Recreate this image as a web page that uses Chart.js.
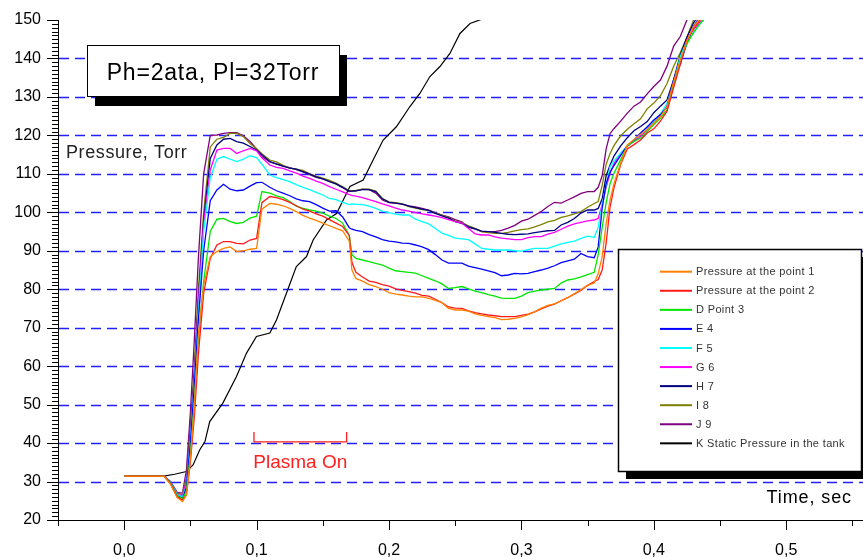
<!DOCTYPE html>
<html><head><meta charset="utf-8">
<script src="https://cdn.jsdelivr.net/npm/chart.js@4.4.0/dist/chart.umd.min.js"></script>
<style>html,body{margin:0;padding:0;background:#fff;overflow:hidden}#wrap{width:863px;height:557px;position:relative}canvas{display:block}</style>
</head><body><div id="wrap"><canvas id="c" width="863" height="557"></canvas></div>
<script>
// ---------- DATA ----------
const timeSec = [0,0.03,0.035,0.04,0.044,0.047,0.05,0.053,0.056,0.06,
0.065,0.07,0.075,0.08,0.085,0.09,0.095,0.1,0.104,0.11,
0.115,0.12,0.125,0.13,0.135,0.14,0.145,0.15,0.155,0.16,
0.165,0.17,0.172,0.175,0.18,0.185,0.19,0.195,0.2,0.205,
0.21,0.215,0.22,0.225,0.23,0.235,0.24,0.245,0.25,0.255,
0.26,0.265,0.27,0.275,0.28,0.285,0.29,0.295,0.3,0.305,
0.31,0.315,0.32,0.325,0.33,0.335,0.34,0.345,0.35,0.355,
0.358,0.361,0.364,0.367,0.37,0.375,0.38,0.385,0.39,0.395,
0.4,0.405,0.41,0.415,0.42,0.425,0.43,0.435,0.44];

const point1 = [31.4,31.4,29.3,25.8,24.8,26.5,36,50,68,81,
88.5,89.8,90.6,91,89.8,90,90.4,90.6,100.8,102.3,
102.1,101.7,101,100.2,99.2,98.5,97.9,97.2,96.5,95.8,
95.2,92.5,85,82.8,82.1,81.2,80.7,80,79.1,78.7,
78.5,78.2,78,78,77.6,77.1,76.5,75,74.6,74.6,
74.3,73.6,73.2,72.9,72.6,72.1,72.2,72.4,72.8,73.4,
74.1,75.1,75.8,76.2,77,77.8,78.8,79.9,81,81.6,
84,88.5,97,103.2,107.6,112.8,117.5,118.9,120.3,121.5,
123.2,124.9,127.5,134,139.5,144.5,148.3,150.5,152];

const point2 = [31.4,31.4,29.4,26,25.2,26.5,35,47,63,79,
88,91.5,92.4,92.4,91.9,91.8,92.8,93.2,102.5,104.1,
103.8,103.3,102.6,101.7,100.8,100.3,99.6,99,98.1,97.2,
96.3,94,87,84.4,83.2,82.1,81.8,81.2,80.8,80.1,
79.7,79.4,79,78.4,78.2,77.4,76.5,75.4,75.1,75,
74.4,73.9,73.6,73.3,73.1,72.9,72.9,72.9,73.2,73.5,
74.1,74.9,75.6,76.1,77,77.8,78.8,79.7,81,82,
82.5,85,92,101.5,106.5,112.5,116.5,117.6,118.8,120.6,
121.7,123.7,126.3,132.5,138.5,144.8,147.8,150,152];

const point3 = [31.4,31.4,29.5,26.3,25.5,27.5,37,51,67,82,
95,98.2,98.4,97.6,97.1,97.4,98.5,99,105.4,105,
104.3,103.8,102.8,101.6,101,100.6,100.3,99.8,99,98.4,
97.2,94,89,88,87.6,87.2,86.7,86.3,85.5,84.8,
84.6,84.4,84.2,83.5,82.8,82.2,81.4,80.2,80.4,80.7,
80.1,79.5,79.1,78.6,78.2,77.7,77.6,77.6,78.2,79.1,
79.5,79.8,80,80.2,81.6,82.4,82.7,83.2,83.8,84.4,
89,96,102.5,107.5,110.2,113.7,117.3,118.4,119.3,121,
122.8,124.5,126.6,132.9,139.6,143.8,146.8,149.1,151];

const point4 = [31.4,31.4,29.6,26.2,25.4,28.5,40,55,72,90,
103,105.8,107.3,106,105.6,105.8,106.8,107.7,107.8,106.5,
105.6,105,104.3,103.5,103,102.8,102,101.1,100.3,100.4,
98.8,96,95.6,95.3,95,94.2,93.6,92.9,92.5,92.3,
92,91.9,91.5,91,90.3,89,87.6,86.8,86.8,86.8,
86,85.6,85.2,84.8,84.3,83.5,83.7,84.1,84,84.1,
84.6,85,85.5,86.1,86.9,87.4,87.8,89.3,88.5,88.2,
91,101,107.5,110.5,112.2,114.8,117.3,118.7,120.6,122.2,
124,125.4,127.4,134.6,138.5,144,148.3,151,153];

const point5 = [31.4,31.4,29.8,26.6,26,29,41,56,74,95,
109,113.8,114.5,113.8,113.2,113.8,114.7,114.2,112.5,109.7,
109,108.5,108,107.2,106.5,105.9,105.2,104.5,103.6,103.3,
102.6,102,102.2,102.1,102,101.6,101,100.3,99.9,99.5,
99.3,99.3,98.2,97.6,97,95.8,94.6,94,93.3,93.1,
92.9,91.8,90.6,90.4,90.2,90.2,90.2,90,89.9,90.3,
90.6,90.6,90.6,91.2,91.8,92.2,92.5,93.2,93.8,93.5,
96,102,107,111.9,113.4,115.4,117.2,118.8,120.4,122.2,
123.6,125.6,128.4,133.5,140.5,144.5,146.6,149.1,151];

const point6 = [31.4,31.4,29.8,26.8,26.3,30,42,57,76,97,
111,116.2,116.6,116.6,115.3,116,116.6,116,114.2,112.3,
111.7,111.4,110.8,110.2,109.4,108.8,108.1,107.5,106.7,106,
105.3,104.6,104.4,104.2,103.8,103.3,102.8,102.2,101.7,101.1,
100.6,100.3,99.9,99.6,99.3,99,98.6,98.1,97.6,97.2,
95.8,94.4,94.1,94.1,93.6,93.3,93.1,92.9,92.9,93.4,
93.7,93.7,94.3,94.8,95.6,96.4,97,97.4,97.8,98,
98.4,102,106.5,110.2,112.7,115.3,117.2,118.4,119.8,121.5,
123.3,125,127.5,133.7,139.6,144.8,147.5,149.4,151.3];

const point7 = [31.4,31.4,29.7,26.5,25.8,30,43,58,77,98,
114,117.5,119,119.2,118.4,118,117.1,116.2,115,113.2,
112.6,112,111.5,111.2,110.6,110,109.2,108.7,108,107.4,
106.5,105.5,105.5,105.6,105.9,105.9,105.4,103.5,102.6,102.4,
102.1,101.6,101.2,100.8,100.5,99.7,99.1,98.5,97.6,97.1,
96.3,95.7,95.1,95,94.8,94.5,94.3,94.2,94.3,94.4,
94.7,95,95.2,95.3,96.7,97.4,98.4,99.8,100.6,100.6,
101,103.5,109.5,112.3,114.7,117.3,119.4,121.2,122.3,123.6,
125.9,127.6,129.2,134.5,140.9,145.5,149.2,152,154];

const point8 = [31.4,31.4,29.8,27,26.6,31,44,60,80,100,
117,119,119.5,120.5,120.5,119.7,117.9,116.5,115.2,113.6,
113.1,112.2,111.5,111.2,110.9,110,109.4,108.9,108.3,107.6,
106.6,105.6,105.6,105.7,106,106,105.5,103.6,102.7,102.5,
102.2,101.5,101.1,100.7,100.5,99.8,99.3,98.6,97.8,97.3,
96.5,95.8,95,94.7,94.5,94.5,94.8,95.2,95.5,95.7,
96.2,96.8,97.5,97.9,98.7,99.1,99.6,100.2,101.3,102.3,
102.8,107,112.5,115.3,117.4,119.9,121.6,123,124.3,126.9,
128.4,130.3,133.5,138,141.5,145.5,150,152.5,155];

const point9 = [31.4,31.4,30,27.2,27,33,48,67,88,110,
120,120.1,120.5,120.7,120.7,119.9,118.4,116.5,114.5,113.1,
112.5,112,111.6,111.1,110.5,109.8,109.1,108.7,108.1,107.4,
106.4,105.4,105.5,105.6,106,105.9,105,103.2,102.5,102.4,
102.1,101.7,101.4,101,100.6,99.9,99.3,98.8,98.1,97.5,
96.1,95.7,95,95,95,95.3,95.9,96.6,97.7,98.2,
99.2,100.2,101.5,102.6,102.4,103.2,104,104.9,105.4,105.4,
106.5,109.5,116.5,120.5,121.8,123.7,125.8,127.6,128.7,130.8,
132.7,134.4,138,143.2,145.7,150,153,155,157];

const tankTime = [0,0.03,0.038,0.047,0.052,0.057,0.061,0.0646,0.0745,0.0848,
0.0924,0.0999,0.11,0.115,0.1226,0.13,0.1377,0.1427,0.1528,0.1604,
0.1705,0.1805,0.188,0.1956,0.2057,0.2158,0.2233,0.2309,0.2385,0.246,
0.2536,0.2612,0.27];
const tankPressure = [31.4,31.4,31.9,32.6,34.3,38.2,40.4,45.6,50.4,57.3,
63.4,67.7,68.6,72,79,85.9,88.5,92.8,98,99.7,
106.7,108.4,113.6,118.8,122.3,127.5,130.9,135.3,137.9,141.3,
146.5,149.1,150.2];

const seriesLabels = ['Pressure at the point 1','Pressure at the point 2','D Point 3','E 4','F 5','G 6','H 7','I 8','J 9','K Static Pressure in the tank'];
const xTickValues = [0,0.1,0.2,0.3,0.4,0.5];
const xTickLabels = ['0,0','0,1','0,2','0,3','0,4','0,5'];
const yTickValues = [20,30,40,50,60,70,80,90,100,110,120,130,140,150];
const yTickLabels = ['20','30','40','50','60','70','80','90','100','110','120','130','140','150'];
const gridValues = [30,40,50,60,70,80,90,100,110,120,130,140];
const plasmaTime = [0.098,0.168];
const plasmaLevel = [40.3,42.9];
const titleText = 'Ph=2ata, Pl=32Torr';

// ---------- STYLES ----------
const seriesColors = ['#ff8000','#ff1a1a','#00e600','#0000ff','#00ffff','#ff00ff','#000080','#808000','#800080','#000000'];
const FONT = "'Liberation Sans', Arial, sans-serif";
const AREA = {left: 58, top: 20, right: 863, bottom: 520};

const probeValues = [point1,point2,point3,point4,point5,point6,point7,point8,point9];
const datasets = probeValues.map((vals,i)=>({
  label: seriesLabels[i],
  data: timeSec.map((t,j)=>({x:t,y:vals[j]})),
  borderColor: seriesColors[i], borderWidth: 1.3, pointRadius: 0, tension: 0, fill: false
}));
datasets.push({
  label: seriesLabels[9],
  data: tankTime.map((t,j)=>({x:t,y:tankPressure[j]})),
  borderColor: seriesColors[9], borderWidth: 1.2, pointRadius: 0, tension: 0, fill: false
});

const decor = {
  id: 'decor',
  beforeDatasetsDraw(chart){
    const {ctx, chartArea:a, scales:{y}} = chart;
    ctx.save();
    ctx.strokeStyle = '#1f1fff'; ctx.lineWidth = 1.5; ctx.setLineDash([10,6]);
    gridValues.forEach(v=>{
      const py = Math.round(y.getPixelForValue(v))+0.5;
      ctx.beginPath(); ctx.moveTo(a.left+1, py); ctx.lineTo(a.right, py); ctx.stroke();
    });
    ctx.restore();
  },
  afterDraw(chart){
    const {ctx, chartArea:a, scales:{x,y}} = chart;
    ctx.save();
    // tick marks
    ctx.strokeStyle = '#000'; ctx.lineWidth = 1;
    for(let v=20; v<=150; v++){
      const py = Math.round(y.getPixelForValue(v))+0.5;
      const len = (v%10===0)?11:6;
      ctx.beginPath(); ctx.moveTo(a.left-len, py); ctx.lineTo(a.left, py); ctx.stroke();
    }
    for(let k=-1; k<=11; k++){
      const v = k*0.05;
      const px = Math.round(x.getPixelForValue(v))+0.5;
      if(px > a.right) continue;
      const len = (k%2===0)?10:6;
      ctx.beginPath(); ctx.moveTo(px, a.bottom); ctx.lineTo(px, a.bottom+len); ctx.stroke();
    }
    // title box
    const bx=87, by=45, bw=252, bh=51;
    ctx.fillStyle='#000'; ctx.fillRect(bx+8, by+10, bw, bh);
    ctx.fillStyle='#fff'; ctx.fillRect(bx, by, bw, bh);
    ctx.strokeStyle='#000'; ctx.lineWidth=1; ctx.strokeRect(bx+0.5, by+0.5, bw, bh);
    ctx.fillStyle='#000'; ctx.font = `23px ${FONT}`; ctx.textAlign='center'; ctx.textBaseline='alphabetic';
    ctx.letterSpacing = '0.8px';
    ctx.fillText(titleText, bx+bw/2, 80);
    // axis titles
    ctx.fillStyle='#222'; ctx.textAlign='left'; ctx.font = `18px ${FONT}`; ctx.letterSpacing='0.6px';
    ctx.fillText('Pressure, Torr', 66, 158);
    ctx.fillStyle='#000'; ctx.textAlign='right'; ctx.letterSpacing='0.9px';
    ctx.fillText('Time, sec', 852, 503);
    ctx.letterSpacing='0px';
    // plasma bracket
    const p0 = x.getPixelForValue(plasmaTime[0]), p1 = x.getPixelForValue(plasmaTime[1]);
    const yl = y.getPixelForValue(plasmaLevel[0]), yt = y.getPixelForValue(plasmaLevel[1]);
    ctx.strokeStyle='#ff2020'; ctx.lineWidth=1.3;
    ctx.beginPath(); ctx.moveTo(p0, yt); ctx.lineTo(p0, yl); ctx.lineTo(p1, yl); ctx.lineTo(p1, yt); ctx.stroke();
    ctx.fillStyle='#ff2020'; ctx.font=`19px ${FONT}`; ctx.textAlign='center';
    ctx.fillText('Plasma On', (p0+p1)/2, 468);
    // legend
    const lx=618, ly=249, lw=243, lh=222;
    ctx.fillStyle='#000'; ctx.fillRect(lx+8, ly+8, lw, lh);
    ctx.fillStyle='#fff'; ctx.fillRect(lx, ly, lw, lh);
    ctx.strokeStyle='#000'; ctx.lineWidth=1.5; ctx.strokeRect(lx+0.5, ly+0.5, lw, lh);
    ctx.font=`11px ${FONT}`; ctx.textAlign='left'; ctx.textBaseline='middle'; ctx.letterSpacing='0.35px';
    chart.data.datasets.forEach((ds,i)=>{
      const ry = 271.7 + i*19.07;
      ctx.strokeStyle = ds.borderColor; ctx.lineWidth = 2;
      ctx.beginPath(); ctx.moveTo(660, ry); ctx.lineTo(692, ry); ctx.stroke();
      ctx.fillStyle = '#333'; ctx.fillText(ds.label, 696, ry+0.5);
    });
    ctx.restore();
  }
};

const chart = new Chart(document.getElementById('c').getContext('2d'), {
  type: 'line',
  data: { datasets },
  options: {
    responsive: false, animation: false, devicePixelRatio: 1,
    layout: { padding: { top: 20, right: 0, left: 0, bottom: 0 } },
    plugins: { legend: { display: false }, tooltip: { enabled: false } },
    scales: {
      x: {
        type: 'linear', min: -0.05, max: 0.558,
        grid: { display: false, drawTicks: false },
        border: { display: true, color: '#000', width: 1 },
        ticks: { padding: 21, color: '#000', font: { family: FONT, size: 16 }, maxRotation: 0, autoSkip: false,
          callback: (v)=>{ const i = xTickValues.findIndex(t=>Math.abs(t-v)<1e-9); return i>=0 ? xTickLabels[i] : ''; } },
        afterBuildTicks: s => { s.ticks = xTickValues.map(v=>({value:v})); },
        afterFit: s => { s.height = 37; s.paddingLeft = 0; s.paddingRight = 0; s.paddingTop = 0; s.paddingBottom = 0; }
      },
      y: {
        min: 20, max: 150,
        grid: { display: false, drawTicks: false },
        border: { display: true, color: '#000', width: 1 },
        ticks: { padding: 17, color: '#000', font: { family: FONT, size: 16 }, autoSkip: false,
          callback: (v)=>{ const i = yTickValues.indexOf(v); return i>=0 ? yTickLabels[i] : ''; } },
        afterBuildTicks: s => { s.ticks = yTickValues.map(v=>({value:v})); },
        afterFit: s => { s.width = 58; s.paddingTop = 0; s.paddingBottom = 0; s.paddingLeft = 0; s.paddingRight = 0; }
      }
    }
  },
  plugins: [decor]
});

// pin the plot area to the reference frame
for (let k = 0; k < 4; k++) {
  const ca = chart.chartArea, p = chart.config.options.layout.padding;
  const dt = AREA.top - ca.top, db = ca.bottom - AREA.bottom, dl = AREA.left - ca.left, dr = ca.right - AREA.right;
  if (Math.abs(dt) + Math.abs(db) + Math.abs(dl) + Math.abs(dr) < 0.2) break;
  p.top += dt; p.bottom += db; p.left += dl; p.right += dr;
  chart.update();
}
</script>
</body></html>
